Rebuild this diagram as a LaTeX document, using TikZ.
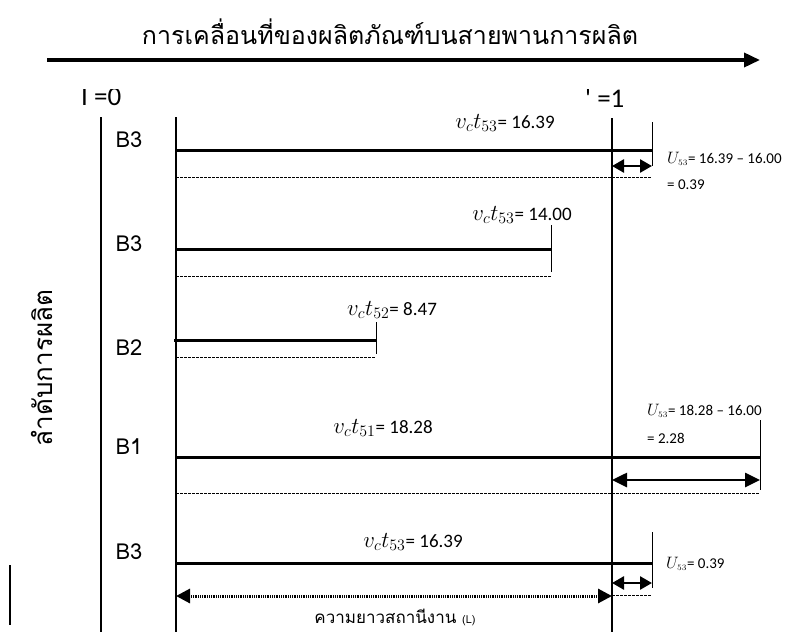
\RequirePackage{fix-cm}
\documentclass[tikz,border=0pt]{standalone}
\usepackage{fontspec}
\newfontfamily\thaifont[Script=Thai]{Loma}
\newfontfamily\carl{Carlito}
\usetikzlibrary{arrows.meta}
\newcommand\mth[1]{\scalebox{1.2}{$#1$}}
\newcommand\umth{\scalebox{1.1}{$U_{\scriptscriptstyle 53}$}}
\tikzset{
  bar/.style={line width=3pt},
  tickline/.style={line width=0.7pt},
  axisline/.style={line width=1.6pt},
  dashline/.style={line width=0.7pt, dash pattern=on 3pt off 1pt},
  smallarr/.style={line width=2.6pt, {Triangle[length=12pt,width=13pt]}-{Triangle[length=12pt,width=13pt]}},
  bigarr/.style={line width=2.6pt, {Triangle[length=15pt,width=14pt]}-{Triangle[length=15pt,width=14pt]}},
  dotarr/.style={line width=3pt, dash pattern=on 1pt off 0.8pt, {Triangle[length=14pt,width=14pt]}-{Triangle[length=14pt,width=14pt]}},
  blabel/.style={font=\thaifont\fontsize{22}{22}\selectfont, inner sep=0pt},
  vlabel/.style={font=\carl\fontsize{19}{20}\selectfont, inner sep=0pt, anchor=base},
  ulabel/.style={font=\carl\fontsize{15}{16}\selectfont, inner sep=0pt, anchor=base west},
  llabel/.style={font=\carl\fontsize{27}{27}\selectfont, inner sep=0pt, anchor=base west},
}
\begin{document}
\begin{tikzpicture}[x=1pt,y=-1pt]
\useasboundingbox (0,0) rectangle (793,632);
% title and main arrow
\node[font=\thaifont\fontsize{25}{27}\selectfont, inner sep=0pt] (title) at (390,32) {การเคลื่อนที่ของผลิตภัณฑ์บนสายพานการผลิต};
\coordinate (mA) at (47,60);
\coordinate (mB) at (760,60);
\draw[line width=3.6pt, -{Triangle[length=16pt,width=14pt]}] (mA) -- (mB);
% L labels (clipped at the top, as printed)
\begin{scope}
\clip (0,89) rectangle (793,116);
\node[llabel] (l0) at (81,105) {I =0};
\node[llabel] (l1) at (585,107) {' =1};
\end{scope}
% vertical lines
\coordinate (v1t) at (101,117); \coordinate (v1b) at (101,632);
\coordinate (v2t) at (176,117); \coordinate (v2b) at (176,632);
\coordinate (v3t) at (612,118); \coordinate (v3b) at (612,632);
\coordinate (v0t) at (10,565); \coordinate (v0b) at (10,625);
\draw[axisline] (v1t) -- (v1b);
\draw[axisline] (v2t) -- (v2b);
\draw[axisline] (v3t) -- (v3b);
\draw[axisline] (v0t) -- (v0b);
% vertical title
\node[font=\thaifont\fontsize{26}{27}\selectfont, inner sep=0pt, rotate=90] (ylab) at (42,368) {ลำดับการผลิต};
% ---- Row 1: B3 16.39
\node[blabel] (b1) at (129,140) {B3};
\coordinate (r1a) at (176,150); \coordinate (r1b) at (652,150);
\draw[bar] (r1a) -- (r1b);
\coordinate (t1a) at (652,122); \coordinate (t1b) at (652,166);
\draw[tickline] (t1a) -- (t1b);
\coordinate (d1a) at (612,166); \coordinate (d1b) at (652,166);
\draw[smallarr] (d1a) -- (d1b);
\coordinate (s1a) at (176,177); \coordinate (s1b) at (652,177);
\draw[dashline] (s1a) -- (s1b);
\node[vlabel] (vl1) at (505,128) {\mth{v_c t_{53}}= 16.39};
\node[ulabel] (u1) at (667,163) {\umth= 16.39 – 16.00};
\node[ulabel] (u1b) at (667,189) {= 0.39};
% ---- Row 2: B3 14.00
\node[blabel] (b2) at (129,244) {B3};
\coordinate (r2a) at (176,249); \coordinate (r2b) at (551,249);
\draw[bar] (r2a) -- (r2b);
\coordinate (t2a) at (551,225); \coordinate (t2b) at (551,272);
\draw[tickline] (t2a) -- (t2b);
\coordinate (s2a) at (176,276); \coordinate (s2b) at (551,276);
\draw[dashline] (s2a) -- (s2b);
\node[vlabel] (vl2) at (522,220) {\mth{v_c t_{53}}= 14.00};
% ---- Row 3: B2 8.47
\node[blabel] (b3) at (129,348) {B2};
\coordinate (r3a) at (174,340); \coordinate (r3b) at (376,340);
\draw[bar] (r3a) -- (r3b);
\coordinate (t3a) at (376,322); \coordinate (t3b) at (376,354);
\draw[tickline] (t3a) -- (t3b);
\coordinate (s3a) at (176,357); \coordinate (s3b) at (376,357);
\draw[dashline] (s3a) -- (s3b);
\node[vlabel] (vl3) at (392,315) {\mth{v_c t_{52}}= 8.47};
% ---- Row 4: B1 18.28
\node[blabel] (b4) at (129,447) {B1};
\coordinate (r4a) at (176,457); \coordinate (r4b) at (760,457);
\draw[bar] (r4a) -- (r4b);
\coordinate (t4a) at (760,420); \coordinate (t4b) at (760,490);
\draw[tickline] (t4a) -- (t4b);
\coordinate (d4a) at (612,480); \coordinate (d4b) at (760,480);
\draw[bigarr] (d4a) -- (d4b);
\coordinate (s4a) at (176,493); \coordinate (s4b) at (760,493);
\draw[dashline] (s4a) -- (s4b);
\node[vlabel] (vl4) at (383,433) {\mth{v_c t_{51}}= 18.28};
\node[ulabel] (u4) at (647,415) {\umth= 18.28 – 16.00};
\node[ulabel] (u4b) at (647,443) {= 2.28};
% ---- Row 5: B3 16.39
\node[blabel] (b5) at (129,552) {B3};
\coordinate (r5a) at (176,563); \coordinate (r5b) at (652,563);
\draw[bar] (r5a) -- (r5b);
\coordinate (t5a) at (652,532); \coordinate (t5b) at (652,588);
\draw[tickline] (t5a) -- (t5b);
\coordinate (d5a) at (612,583); \coordinate (d5b) at (652,583);
\draw[smallarr] (d5a) -- (d5b);
\coordinate (s5a) at (612,595); \coordinate (s5b) at (652,595);
\draw[dashline] (s5a) -- (s5b);
\node[vlabel] (vl5) at (413,547) {\mth{v_c t_{53}}= 16.39};
\node[ulabel] (u5) at (666,568) {\umth= 0.39};
\coordinate (la) at (176,596); \coordinate (lb) at (612,596);
\draw[dotarr] (la) -- (lb);
\node[font=\thaifont\fontsize{17}{18}\selectfont, inner sep=0pt, anchor=base] (len) at (395,623) {ความยาวสถานีงาน {\fontsize{11}{11}\selectfont (L)}};
\end{tikzpicture}
\end{document}
